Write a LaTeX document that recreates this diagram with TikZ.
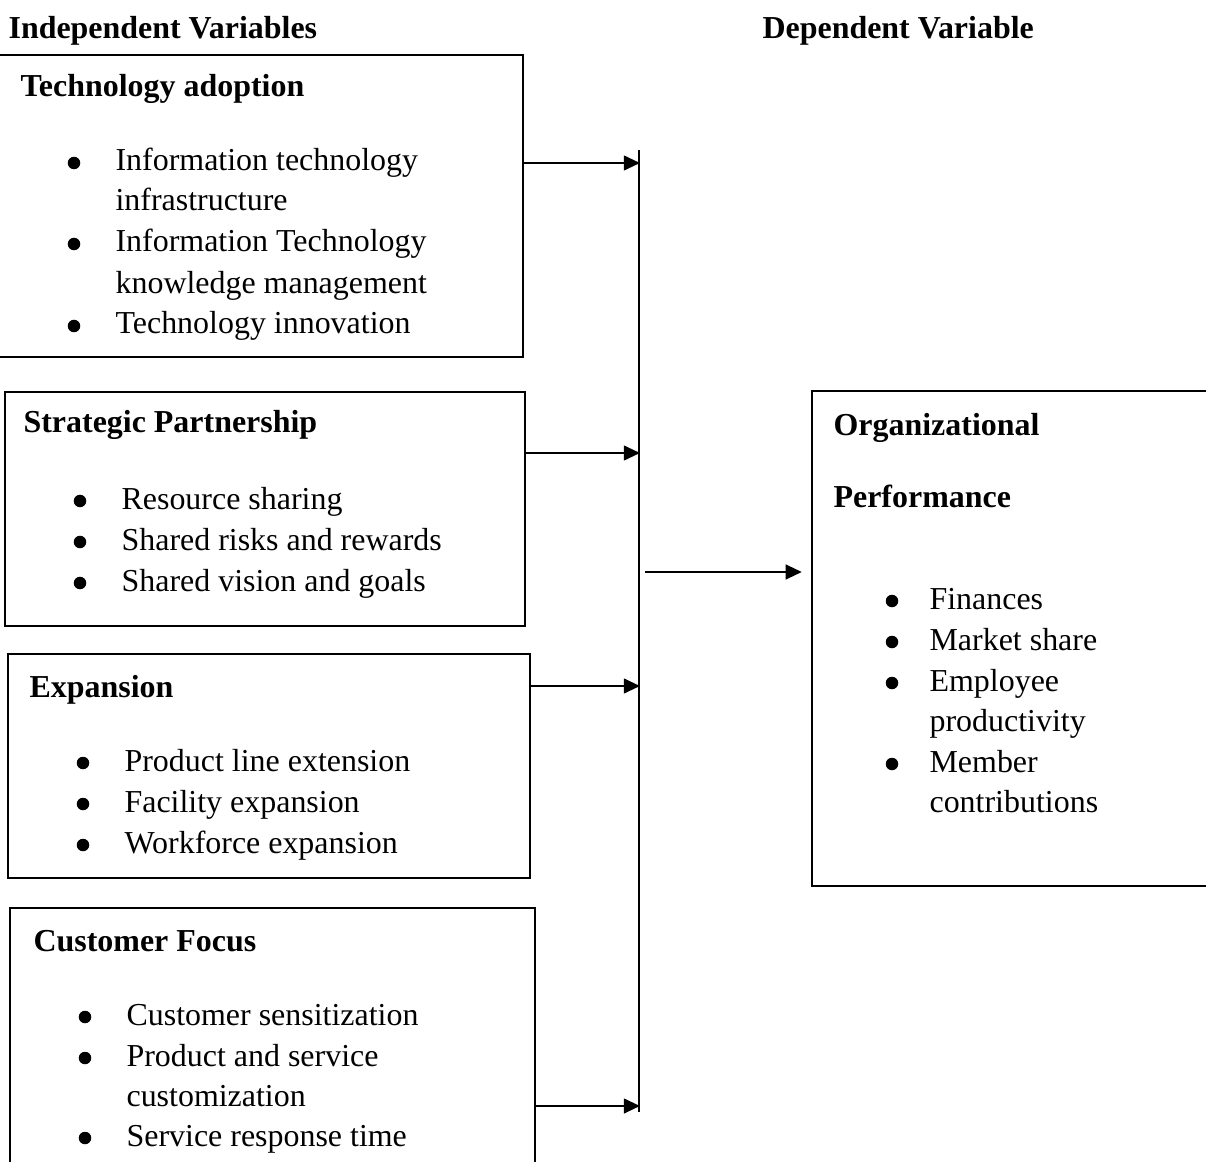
\documentclass[tikz,border=0pt]{standalone}
\usepackage{fontspec}
\setmainfont{Liberation Serif}
\usetikzlibrary{arrows.meta, positioning, fit}

\tikzset{
  box/.style={draw, line width=0.8pt, inner sep=0pt},
  head/.style={anchor=base west, inner sep=0pt, font=\fontsize{10.9}{14}\selectfont\bfseries},
  item/.style={anchor=base west, inner sep=0pt, font=\fontsize{10.9}{14}\selectfont},
  arr/.style={line width=0.8pt, -{Triangle[length=5.5pt, width=5pt]}},
  bus/.style={line width=0.4pt}
}
% bullet dot and its text: name, dot x, text x, baseline y, text
\newcommand{\bitem}[5]{%
  \fill (#2,#4-8) circle[radius=0.075cm];
  \node[item] (#1) at (#3,#4) {#5};}

\begin{document}
\begin{tikzpicture}[x=0.012cm, y=-0.012cm]
\useasboundingbox (0,0) rectangle (1206,1162);

\node[head] (indep) at (8,39) {Independent Variables};
\node[head] (dep) at (762,39) {Dependent Variable};

% independent variable boxes
\node[box, fit={(-10,55) (523,357)}] (tech) {};
\node[box, fit={(5,392) (525,626)}] (part) {};
\node[box, fit={(8,654) (530,878)}] (expa) {};
\node[box, fit={(10,908) (535,1180)}] (cust) {};
\node[box, fit={(812,391) (1220,886)}] (perf) {};

\node[head] (techT) at (20,97) {Technology adoption};
\bitem{tech1}{74}{115}{171}{Information technology}
\node[item] (tech1b) at (115,211) {infrastructure};
\bitem{tech2}{74}{115}{252}{Information Technology}
\node[item] (tech2b) at (115,293) {knowledge management};
\bitem{tech3}{74}{115}{334}{Technology innovation}

\node[head] (partT) at (23,433) {Strategic Partnership};
\bitem{part1}{80}{121}{509}{Resource sharing}
\bitem{part2}{80}{121}{550}{Shared risks and rewards}
\bitem{part3}{80}{121}{591}{Shared vision and goals}

\node[head] (expaT) at (29,697) {Expansion};
\bitem{expa1}{83}{124}{771}{Product line extension}
\bitem{expa2}{83}{124}{812}{Facility expansion}
\bitem{expa3}{83}{124}{853}{Workforce expansion}

\node[head] (custT) at (33,951) {Customer Focus};
\bitem{cust1}{85}{126}{1025}{Customer sensitization}
\bitem{cust2}{85}{126}{1066}{Product and service}
\node[item] (cust2b) at (126,1106) {customization};
\bitem{cust3}{85}{126}{1146}{Service response time}

% dependent variable box
\node[head] (perfT) at (833,435) {Organizational};
\node[head] (perfT2) at (833,507) {Performance};
\bitem{perf1}{892}{929}{609}{Finances}
\bitem{perf2}{892}{929}{650}{Market share}
\bitem{perf3}{892}{929}{691}{Employee}
\node[item] (perf3b) at (929,731) {productivity};
\bitem{perf4}{892}{929}{772}{Member}
\node[item] (perf4b) at (929,812) {contributions};

% connectors
\coordinate (bustop) at (639,150);
\coordinate (busbot) at (639,1112);
\coordinate (b1) at (640,163);
\coordinate (b2) at (640,453);
\coordinate (b3) at (640,686);
\coordinate (b4) at (640,1106);
\coordinate (bout) at (645,572);

\draw[bus] (bustop) -- (busbot);
\draw[arr] (tech.east |- b1) -- (b1);
\draw[arr] (part.east |- b2) -- (b2);
\draw[arr] (expa.east |- b3) -- (b3);
\draw[arr] (cust.east |- b4) -- (b4);
\draw[arr, shorten >=0.108cm] (bout) -- (perf.west |- bout);
\end{tikzpicture}
\end{document}
